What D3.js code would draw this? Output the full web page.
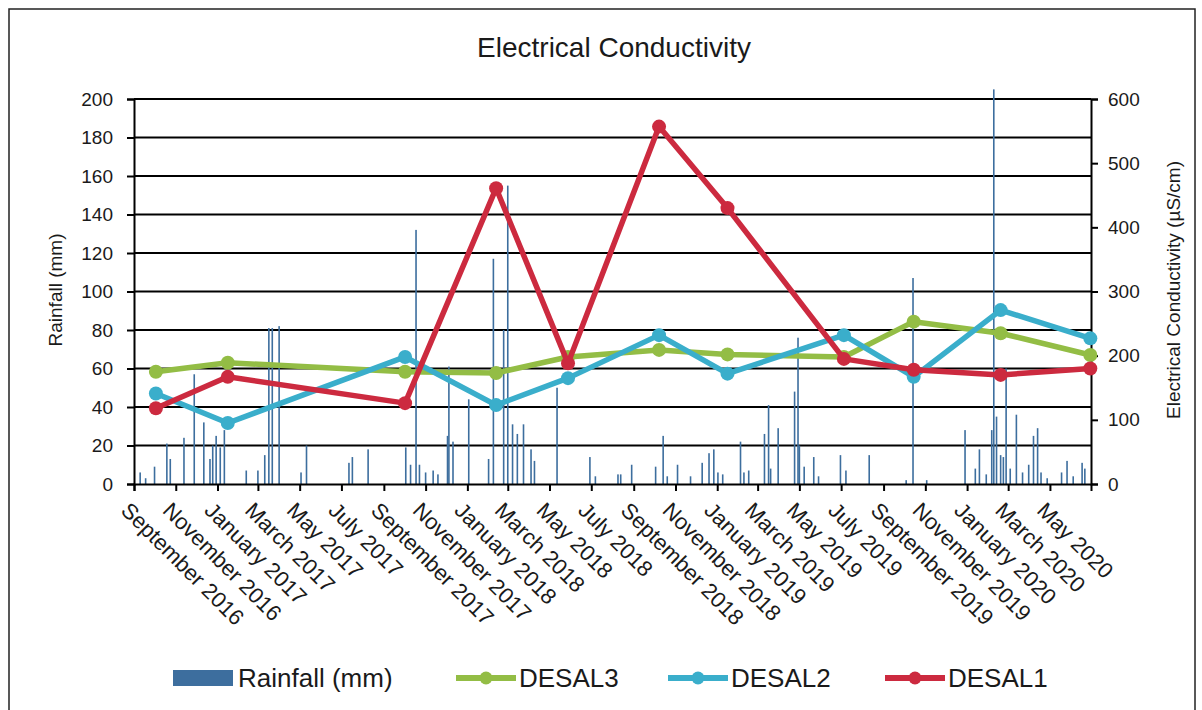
<!DOCTYPE html>
<html>
<head>
<meta charset="utf-8">
<script src="https://cdn.jsdelivr.net/npm/d3@7"></script>
<style>
    body { margin: 0; background: #fff; }
    text { font-family: Arial, "Liberation Sans", sans-serif; fill: #1a1a1a; }
</style>
</head>
<body>
<svg id="chart" width="1202" height="710"></svg>
<script>
// conductivity sampling dates and readings (uS/cm)
const sampleDates = ["2016-10-03", "2017-01-16", "2017-10-02", "2018-02-12", "2018-05-28", "2018-10-08",
    "2019-01-16", "2019-07-05", "2019-10-15", "2020-02-19", "2020-06-29"];
const desal1 = [118, 167, 126, 461, 188, 557, 430, 195, 178, 170, 180];
const desal2 = [141, 95, 198, 123, 165, 232, 172, 232, 167, 271, 227];
const desal3 = [175, 189, 175, 173, 198, 209, 202, 198, 253, 235, 201];

// daily rainfall (mm), only the wet days
const rainDates = ["2016-09-10", "2016-09-18", "2016-10-01", "2016-10-19", "2016-10-24", "2016-11-13",
    "2016-11-28", "2016-12-12", "2016-12-21", "2016-12-25", "2016-12-30", "2017-01-05", "2017-01-11",
    "2017-02-12", "2017-03-01", "2017-03-11", "2017-03-17", "2017-03-22", "2017-04-01", "2017-05-03",
    "2017-05-11", "2017-07-12", "2017-07-17", "2017-08-09", "2017-10-03", "2017-10-10", "2017-10-18",
    "2017-10-23", "2017-11-01", "2017-11-12", "2017-11-19", "2017-12-03", "2017-12-05", "2017-12-11",
    "2018-01-03", "2018-02-01", "2018-02-08", "2018-02-23", "2018-03-01", "2018-03-08", "2018-03-15",
    "2018-03-24", "2018-04-04", "2018-04-09", "2018-05-12", "2018-06-29", "2018-07-07", "2018-08-09",
    "2018-08-13", "2018-08-29", "2018-10-03", "2018-10-14", "2018-10-20", "2018-11-04", "2018-11-23",
    "2018-12-10", "2018-12-20", "2018-12-27", "2019-01-02", "2019-01-09", "2019-02-04", "2019-02-09",
    "2019-02-16", "2019-03-11", "2019-03-17", "2019-03-20", "2019-03-31", "2019-04-24", "2019-04-29",
    "2019-05-01", "2019-05-08", "2019-05-22", "2019-05-29", "2019-06-30", "2019-07-08", "2019-08-11",
    "2019-10-04", "2019-10-14", "2019-11-03", "2019-12-29", "2020-01-13", "2020-01-19", "2020-01-29",
    "2020-02-06", "2020-02-09", "2020-02-13", "2020-02-19", "2020-02-23", "2020-02-27", "2020-03-04",
    "2020-03-13", "2020-03-22", "2020-03-31", "2020-04-07", "2020-04-13", "2020-04-18", "2020-04-27",
    "2020-05-18", "2020-05-26", "2020-06-04", "2020-06-17", "2020-06-21"];
const rainValues = [6, 3, 9, 21, 13, 24,
    57, 32, 13, 20, 25, 19, 28,
    7, 7, 15, 81, 81, 82, 6,
    20, 11, 14, 18, 19, 10, 132,
    10, 6, 7, 5, 25, 61, 22,
    44, 13, 117, 80, 155, 31, 26,
    31, 18, 12, 50, 14, 4, 5,
    5, 10, 9, 25, 4, 10, 4,
    11, 16, 18, 6, 5, 22, 6,
    7, 26, 41, 8, 29, 48, 76,
    20, 9, 14, 4, 15, 7, 15,
    2, 107, 2, 28, 8, 18, 5,
    28, 205, 35, 15, 14, 60, 8,
    36, 6, 10, 25, 29, 6, 3,
    6, 12, 4, 11, 8];

const rainTicks = [0, 20, 40, 60, 80, 100, 120, 140, 160, 180, 200];
const ecTicks = [0, 100, 200, 300, 400, 500, 600];

const seriesNames = ["DESAL3", "DESAL2", "DESAL1"];
const seriesColors = { DESAL3: "#93bd45", DESAL2: "#3aaecb", DESAL1: "#cc2a3f" };
const rainColor = "#3d6e9e";

const parseDate = d3.timeParse("%Y-%m-%d");

let margin = { top: 99, left: 134 },
    width = 957,
    height = 385;

let svg = d3.select("#chart");

// outer frame
svg.append("rect")
    .attr("x", 9).attr("y", 9)
    .attr("width", 1186).attr("height", 720)
    .attr("fill", "none")
    .attr("stroke", "#222")
    .attr("stroke-width", 1.5);

svg.append("text")
    .attr("x", 614).attr("y", 57)
    .attr("text-anchor", "middle")
    .style("font-size", "28px")
    .text("Electrical Conductivity");

let g = svg.append("g")
    .attr("transform", "translate(" + margin.left + "," + margin.top + ")");

const x = d3.scaleTime()
    .domain([parseDate("2016-09-01"), parseDate("2020-06-30")])
    .range([0, width]);

const yRain = d3.scaleLinear().domain([0, 200]).range([height, 0]);
const yEC = d3.scaleLinear().domain([0, 600]).range([height, 0]);

// gridlines
g.selectAll(".grid")
    .data(rainTicks.slice(1))
    .enter().append("line")
    .attr("x1", 0).attr("x2", width)
    .attr("y1", function (d) { return yRain(d); })
    .attr("y2", function (d) { return yRain(d); })
    .attr("stroke", "#000")
    .attr("stroke-width", 2);

// rainfall bars
let rain = rainDates.map(function (d, i) {
    return { date: parseDate(d), value: rainValues[i] };
});

g.selectAll(".bar")
    .data(rain)
    .enter().append("rect")
    .attr("class", "bar")
    .attr("x", function (d) { return x(d.date) - 0.8; })
    .attr("width", 1.6)
    .attr("y", function (d) { return yRain(d.value); })
    .attr("height", function (d) { return height - yRain(d.value); })
    .attr("fill", rainColor);

// axes
let xAxis = g.append("g")
    .attr("transform", "translate(0," + height + ")")
    .call(d3.axisBottom(x)
        .ticks(d3.timeMonth.every(2))
        .tickSize(7)
        .tickFormat(d3.timeFormat("%B %Y")));

xAxis.selectAll("text")
    .attr("y", 0).attr("x", 0)
    .attr("dy", "0.75em")
    .attr("transform", "translate(-3,16) rotate(45)")
    .attr("text-anchor", "start")
    .style("font-size", "22px");

let leftAxis = g.append("g")
    .call(d3.axisLeft(yRain).tickValues(rainTicks).tickSize(7).tickPadding(14));
leftAxis.selectAll("text").style("font-size", "19px");

let rightAxis = g.append("g")
    .attr("transform", "translate(" + width + ",0)")
    .call(d3.axisRight(yEC).tickValues(ecTicks).tickSize(7).tickPadding(10));
rightAxis.selectAll("text").style("font-size", "19px");

g.selectAll(".domain, .tick line")
    .attr("stroke", "#000")
    .attr("stroke-width", 2);

// axis titles
svg.append("text")
    .attr("transform", "translate(62,290) rotate(-90)")
    .attr("text-anchor", "middle")
    .style("font-size", "19px")
    .text("Rainfall (mm)");

svg.append("text")
    .attr("transform", "translate(1180,290) rotate(-90)")
    .attr("text-anchor", "middle")
    .style("font-size", "19px")
    .text("Electrical Conductivity (µS/cm)");

// conductivity lines
const seriesValues = { DESAL3: desal3, DESAL2: desal2, DESAL1: desal1 };

let line = d3.line()
    .x(function (d) { return x(d.date); })
    .y(function (d) { return yEC(d.value); });

seriesNames.forEach(function (name) {
    let data = sampleDates.map(function (d, i) {
        return { date: parseDate(d), value: seriesValues[name][i] };
    });
    g.append("path")
        .datum(data)
        .attr("d", line)
        .attr("fill", "none")
        .attr("stroke", seriesColors[name])
        .attr("stroke-width", 5.5)
        .attr("stroke-linejoin", "round");
    g.selectAll(".pt-" + name)
        .data(data)
        .enter().append("circle")
        .attr("cx", function (d) { return x(d.date); })
        .attr("cy", function (d) { return yEC(d.value); })
        .attr("r", 7)
        .attr("fill", seriesColors[name]);
});

// legend
let legend = svg.append("g").attr("transform", "translate(0,678)");

legend.append("rect")
    .attr("x", 173).attr("y", -8)
    .attr("width", 60).attr("height", 16)
    .attr("fill", rainColor);
legend.append("text")
    .attr("x", 238).attr("y", 9)
    .style("font-size", "26px")
    .text("Rainfall (mm)");

const legendX = { DESAL3: 456, DESAL2: 668, DESAL1: 885 };
seriesNames.forEach(function (name) {
    let lx = legendX[name];
    legend.append("line")
        .attr("x1", lx).attr("x2", lx + 60)
        .attr("y1", 0).attr("y2", 0)
        .attr("stroke", seriesColors[name])
        .attr("stroke-width", 6);
    legend.append("circle")
        .attr("cx", lx + 30).attr("cy", 0)
        .attr("r", 6.5)
        .attr("fill", seriesColors[name]);
    legend.append("text")
        .attr("x", lx + 63).attr("y", 9)
        .style("font-size", "26px")
        .text(name);
});
</script>
</body>
</html>
